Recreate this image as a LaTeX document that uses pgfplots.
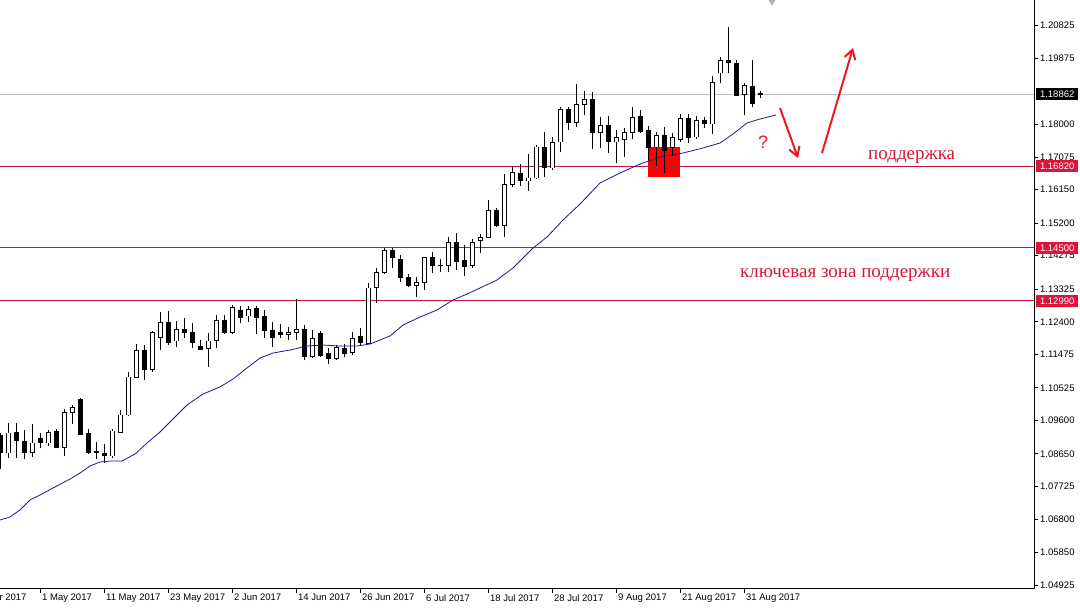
\documentclass[border=0pt]{standalone}
\usepackage{fontspec}
\setmainfont{Liberation Sans}
\newfontfamily\rufont{Liberation Serif}
\usepackage{pgfplots}
\pgfplotsset{compat=1.18}
\usepackage{pgfplotstable}
\usetikzlibrary{arrows.meta}

\definecolor{lvl}{RGB}{200,20,60}
\definecolor{lvlbox}{RGB}{220,20,60}
\definecolor{lvltext}{RGB}{210,25,55}
\definecolor{manavy}{RGB}{25,25,140}
\definecolor{annred}{RGB}{235,25,35}

% daily candles, i = trading day (0 = 1 May 2017)
\pgfplotstableread{
i  o       h       l       c
-4 1.08673 1.09525 1.08531 1.09241
-1 1.08701 1.09496 1.08559 1.08957
1  1.08957 1.09326 1.08872 1.09269
3  1.08843 1.09922 1.08588 1.09837
4  1.09837 1.10036 1.09496 1.09979
9  1.08588 1.09354 1.08531 1.09298
10 1.09269 1.09894 1.09241 1.09752
11 1.09752 1.10973 1.09724 1.10831
12 1.10803 1.11767 1.10790 1.11597
14 1.11030 1.12137 1.10973 1.12108
15 1.11966 1.12676 1.11597 1.12392
17 1.11853 1.12421 1.11682 1.12193
21 1.11654 1.12080 1.11114 1.11853
22 1.11881 1.12591 1.11654 1.12449
24 1.12108 1.12875 1.12051 1.12818
26 1.12563 1.12847 1.12392 1.12761
31 1.12051 1.12250 1.11881 1.12108
32 1.12108 1.13045 1.11881 1.12193
34 1.11427 1.12165 1.11370 1.11938
37 1.11370 1.11739 1.11313 1.11682
39 1.11540 1.12108 1.11455 1.11938
41 1.11796 1.13500 1.11767 1.13358
42 1.13386 1.13926 1.12932 1.13784
43 1.13784 1.14493 1.13755 1.14436
47 1.13415 1.13670 1.13102 1.13528
48 1.13528 1.14250 1.13301 1.14237
51 1.13983 1.14805 1.13812 1.14663
54 1.13983 1.14748 1.13926 1.14663
55 1.14720 1.14890 1.14351 1.14805
56 1.14805 1.15856 1.14777 1.15572
58 1.15146 1.16594 1.14805 1.16310
59 1.16310 1.16822 1.16225 1.16651
61 1.16396 1.17162 1.16112 1.16481
62 1.16481 1.17418 1.16452 1.17361
64 1.16765 1.17645 1.16708 1.17475
65 1.17503 1.18496 1.17219 1.18439
67 1.18043 1.19149 1.17929 1.18581
68 1.18581 1.18951 1.18269 1.18723
70 1.17759 1.18212 1.17333 1.17958
72 1.17503 1.17844 1.16907 1.17617
73 1.17588 1.17901 1.17077 1.17759
74 1.17759 1.18496 1.17588 1.18212
77 1.17361 1.17787 1.16822 1.17674
79 1.17333 1.17759 1.17106 1.17617
80 1.17588 1.18297 1.17503 1.18184
82 1.17645 1.18241 1.17588 1.18100
84 1.18014 1.19377 1.17730 1.19206
85 1.19462 1.19916 1.19178 1.19831
88 1.18865 1.19178 1.18269 1.19121
}\bull

\pgfplotstableread{
i  o       h       l       c
-5 1.09184 1.09241 1.08218 1.08673
-3 1.09269 1.09525 1.08531 1.09014
-2 1.09014 1.09326 1.08502 1.08701
0  1.09099 1.09241 1.08815 1.08957
2  1.09298 1.09354 1.08815 1.08843
5  1.10206 1.10235 1.09184 1.09212
6  1.09241 1.09354 1.08644 1.08701
7  1.08730 1.08985 1.08502 1.08673
8  1.08673 1.08928 1.08389 1.08588
13 1.11597 1.11739 1.10746 1.11057
16 1.12392 1.12705 1.11739 1.11824
18 1.12193 1.12506 1.11938 1.12108
19 1.12108 1.12364 1.11654 1.11824
20 1.11711 1.11881 1.11597 1.11625
23 1.12449 1.12591 1.12051 1.12108
25 1.12733 1.12847 1.12364 1.12534
27 1.12790 1.12847 1.12051 1.12534
28 1.12563 1.12733 1.11938 1.12165
29 1.12165 1.12392 1.11682 1.11966
30 1.12108 1.12335 1.11938 1.12051
33 1.12193 1.12307 1.11313 1.11427
35 1.12080 1.12137 1.11398 1.11455
36 1.11512 1.11654 1.11199 1.11370
38 1.11654 1.11767 1.11398 1.11512
40 1.11995 1.12222 1.11739 1.11824
44 1.14436 1.14493 1.13926 1.14237
45 1.14180 1.14294 1.13528 1.13642
46 1.13642 1.13755 1.13386 1.13415
49 1.14237 1.14379 1.13784 1.13983
50 1.14011 1.14180 1.13812 1.13983
52 1.14663 1.14919 1.13869 1.14096
53 1.14125 1.14578 1.13699 1.13954
57 1.15572 1.15629 1.15089 1.15146
60 1.16623 1.16878 1.16254 1.16396
63 1.17361 1.17787 1.16509 1.16793
66 1.18439 1.18496 1.17844 1.18043
69 1.18723 1.18922 1.17304 1.17759
71 1.17958 1.18241 1.17191 1.17503
75 1.18241 1.18411 1.17759 1.17787
76 1.17816 1.17958 1.16992 1.17333
78 1.17674 1.17929 1.16623 1.17248
81 1.18184 1.18297 1.17475 1.17617
83 1.18100 1.18212 1.17901 1.18014
86 1.19831 1.20768 1.19462 1.19746
87 1.19746 1.19831 1.18820 1.18837
89 1.19093 1.19831 1.18496 1.18610
90 1.18870 1.18951 1.18752 1.18862
}\bear

% moving average
\pgfplotstableread{
i      ma
-5     1.06771
-3.75  1.06856
-2.5   1.07055
-1.25  1.07338
0      1.07480
1.625  1.07679
3.75   1.07934
5      1.08105
6.25   1.08304
7.5    1.08417
8.75   1.08446
10.25  1.08446
11.875 1.08644
13.375 1.08957
15     1.09269
16.625 1.09638
18.375 1.10036
20.375 1.10348
22.5   1.10547
24.125 1.10774
25.875 1.11087
27.5   1.11370
29.125 1.11512
31.25  1.11597
33.375 1.11711
35.375 1.11739
37.5   1.11711
39.625 1.11711
41.25  1.11767
42.5   1.11881
43.75  1.11995
45.375 1.12307
47.5   1.12534
49.625 1.12733
51.625 1.13017
53.375 1.13187
55     1.13358
57.125 1.13585
59.125 1.13926
61.625 1.14493
63.375 1.14805
65.375 1.15288
67.5   1.15742
70     1.16339
72.5   1.16623
75     1.16878
77.5   1.17077
80.375 1.17191
82.875 1.17333
85     1.17475
86.625 1.17730
88.375 1.18043
90     1.18156
92     1.18269
}\ma

\pgfplotsset{
  candle/.style 2 args={draw=none, mark=none, forget plot,
    error bars/.cd, y dir=plus, y explicit, error mark=none,
    error bar style={draw=#1, line width=#2}},
}

\begin{document}
\begin{tikzpicture}
\path[use as bounding box] (0,0) rectangle (1080pt,610pt);
\begin{axis}[
  at={(0pt,610pt)}, anchor=north west,
  width=1034pt, height=589pt, scale only axis,
  xmin=-5, xmax=124.25, ymin=1.04812, ymax=1.21535,
  axis x line*=bottom, axis y line*=right,
  axis line style={black, line width=1pt},
  tick align=outside, major tick length=4pt,
  tick style={black, line width=0.8pt},
  clip mode=individual,
  ticklabel style={font=\fontsize{9.5}{11}\selectfont},
  xtick={0,8,...,88},
  xticklabels={1 May 2017,11 May 2017,23 May 2017,2 Jun 2017,14 Jun 2017,26 Jun 2017,
    6 Jul 2017,18 Jul 2017,28 Jul 2017,9 Aug 2017,21 Aug 2017,31 Aug 2017},
  xticklabel style={anchor=north west, inner sep=1pt, xshift=1pt},
  ytick={1.04925,1.05850,1.06800,1.07725,1.08650,1.09600,1.10525,1.11475,1.12400,
    1.13325,1.14275,1.15200,1.16150,1.17075,1.18000,1.19875,1.20825},
  yticklabels={1.04925,1.05850,1.06800,1.07725,1.08650,1.09600,1.10525,1.11475,1.12400,
    1.13325,1.14275,1.15200,1.16150,1.17075,1.18000,1.19875,1.20825},
  yticklabel style={anchor=west, inner sep=2pt},
]
  % zone marker
  \fill[red] (axis cs:76,1.16509) rectangle (axis cs:80,1.17361);

  % levels and current price
  \addplot[black!25, line width=0.8pt, forget plot] coordinates {(-5,1.18862) (124.25,1.18862)};
  \addplot[lvl, line width=1pt, forget plot] coordinates {(-5,1.16820) (124.25,1.16820)};
  \addplot[lvl, line width=1pt, forget plot] coordinates {(-5,1.14500) (124.25,1.14500)};
  \addplot[lvl, line width=1pt, forget plot] coordinates {(-5,1.12990) (124.25,1.12990)};

  % wicks
  \addplot[candle={black}{1pt}] table[x=i, y=l, y error plus expr={\thisrow{h}-\thisrow{l}}] {\bull};
  \addplot[candle={black}{1pt}] table[x=i, y=l, y error plus expr={\thisrow{h}-\thisrow{l}}] {\bear};
  % bodies
  \addplot[candle={black}{5pt}] table[x=i, y expr={\thisrow{c}-0.00014},
    y error plus expr={max(\thisrow{o}-\thisrow{c},0.0001)+0.00028}] {\bear};
  \addplot[candle={black}{5pt}] table[x=i, y expr={\thisrow{o}-0.00014},
    y error plus expr={\thisrow{c}-\thisrow{o}+0.00028}] {\bull};
  \addplot[candle={white}{3pt}] table[x=i, y expr={\thisrow{o}+0.00014},
    y error plus expr={\thisrow{c}-\thisrow{o}-0.00028}] {\bull};

  % moving average
  \addplot[manavy, line width=0.8pt, mark=none] table[x=i, y=ma] {\ma};

  % annotations
  \draw[annred, line width=2pt, -{Straight Barb[length=9pt, width=11pt]}]
    (axis cs:92.5,1.18468) -- (axis cs:94.75,1.17049);
  \draw[annred, line width=2pt, -{Straight Barb[length=9pt, width=11pt]}]
    (axis cs:97.75,1.17191) -- (axis cs:101.625,1.20172);
  \node[text=annred, font=\fontsize{18}{20}\selectfont] at (axis cs:90.375,1.17503) {?};
  \node[text=lvltext, anchor=base west, inner sep=0pt, font=\rufont\fontsize{19}{21}\selectfont]
    at (axis cs:103.5,1.17020) {поддержка};
  \node[text=lvltext, anchor=base west, inner sep=0pt, font=\rufont\fontsize{19}{21}\selectfont]
    at (axis cs:87.5,1.13642) {ключевая зона поддержки};
  \fill[black!30] (axis cs:90.9,1.2160) -- (axis cs:92.1,1.2160) -- (axis cs:91.5,1.2137) -- cycle;
  \node[anchor=north west, inner sep=1pt, font=\fontsize{9.5}{11}\selectfont]
    at ([xshift=-2.5pt, yshift=-4pt]axis cs:-8,1.04812) {19 Apr 2017};

  \coordinate (p0) at (axis cs:124.25,1.18862);
  \coordinate (p1) at (axis cs:124.25,1.16820);
  \coordinate (p2) at (axis cs:124.25,1.14500);
  \coordinate (p3) at (axis cs:124.25,1.12990);
\end{axis}
\foreach \c/\t/\col in {p0/1.18862/black, p1/1.16820/lvlbox, p2/1.14500/lvlbox, p3/1.12990/lvlbox}
  \node[fill=\col, text=white, anchor=west, inner sep=0pt, minimum width=42pt,
    minimum height=12pt, xshift=2pt, font=\fontsize{9.5}{11}\selectfont] at (\c) {\t};
\end{tikzpicture}
\end{document}
